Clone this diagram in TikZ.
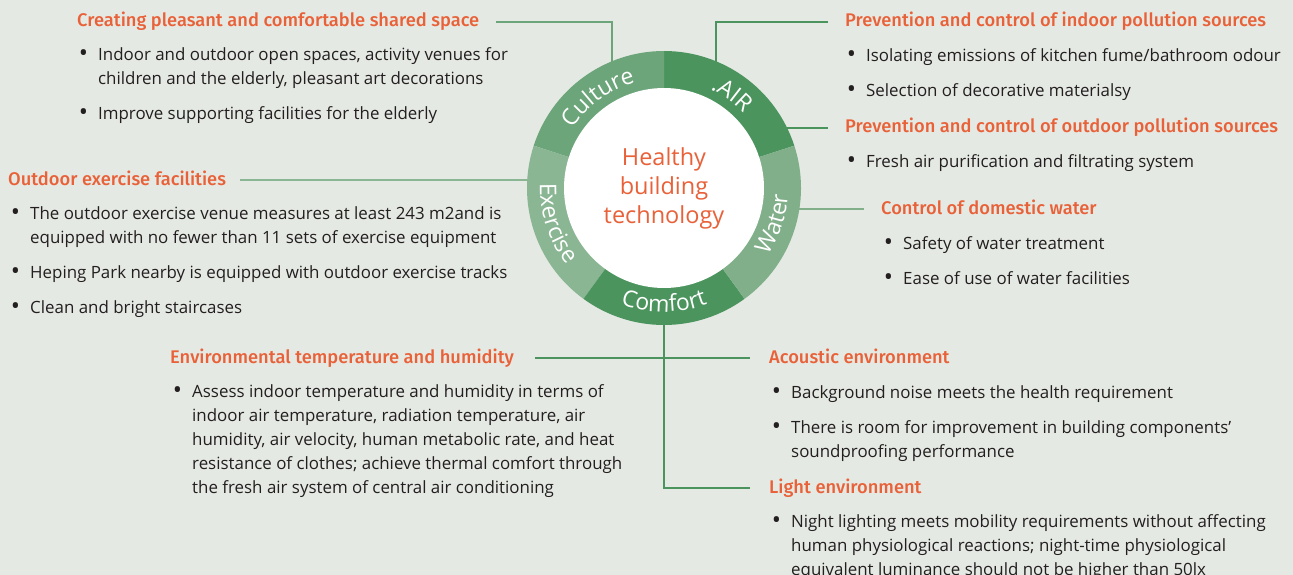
\documentclass[tikz,border=0pt]{standalone}
\usepackage{fontspec}
\setmainfont{Open Sans}
\newfontfamily\headfont{Fira Sans}[UprightFont=* Medium]
\usetikzlibrary{calc, decorations.text}

\definecolor{bgpaper}{HTML}{E5E9E3}
\definecolor{headorange}{HTML}{E96138}
\definecolor{bodygrey}{HTML}{231F20}
\definecolor{airgreen}{HTML}{4B945E}
\definecolor{culturegreen}{HTML}{6CA57A}
\definecolor{exercisegreen}{HTML}{8AB693}
\definecolor{comfortgreen}{HTML}{4B945E}
\definecolor{watergreen}{HTML}{80AF89}

\newcommand{\itm}{\llap{\raisebox{-0.6pt}{\scalebox{1.45}{\textbullet}}\hspace{10pt}}}

\tikzset{
  head/.style={font=\headfont\fontsize{18.3}{22}\selectfont, text=headorange,
    inner sep=0pt, text height=13.5pt, text depth=4pt, anchor=base west},
  items/.style={font=\fontsize{16.9}{24}\selectfont, text=bodygrey,
    align=left, inner sep=0pt, anchor=base west},
  link/.style={line width=2.3pt},
  ringlabel/.style={decorate, decoration={text along path, text align=center,
    text color=white, text={|\fontsize{23}{23}\selectfont|#1}}}
}

\begin{document}
\begin{tikzpicture}[x=1pt, y=1pt]
        \useasboundingbox (0,0) rectangle (1293,-575);
        \fill[bgpaper] (0,0) rectangle (1293,-575);

        % Centre of the ring
        \coordinate (C) at (664,-188);

        % Headings
        \node[head] (culthead) at (77,-27) {Creating pleasant and comfortable shared space};
        \node[head] (exhead) at (8,-185) {Outdoor exercise facilities};
        \node[head] (airhead) at (845,-27) {Prevention and control of indoor pollution sources};
        \node[head] (outhead) at (845,-133) {Prevention and control of outdoor pollution sources};
        \node[head] (waterhead) at (881,-214) {Control of domestic water};
        \node[head] (envhead) at (170,-363) {Environmental temperature and humidity};
        \node[head] (acoushead) at (769,-363) {Acoustic environment};
        \node[head] (lighthead) at (769,-493) {Light environment};

        % Bullet lists (anchored at the baseline of their last line)
        \node[items] (cultitems) at (98,-120) {\itm Indoor and outdoor open spaces, activity venues for\\
            children and the elderly, pleasant art decorations\\[11pt]
            \itm Improve supporting facilities for the elderly};
        \node[items] (exitems) at (30,-313.5) {\itm The outdoor exercise venue measures at least 243 m2and is\\
            equipped with no fewer than 11 sets of exercise equipment\\[11pt]
            \itm Heping Park nearby is equipped with outdoor exercise tracks\\[11pt]
            \itm Clean and bright staircases};
        \node[items] (airitems) at (866,-96.5) {\itm Isolating emissions of kitchen fume/bathroom odour\\[11pt]
            \itm Selection of decorative materialsy};
        \node[items] (outitems) at (866,-167.5) {\itm Fresh air purification and filtrating system};
        \node[items] (wateritems) at (903,-284.5) {\itm Safety of water treatment\\[11pt]
            \itm Ease of use of water facilities};
        \node[items] (envitems) at (192,-493.5) {\itm Assess indoor temperature and humidity in terms of\\
            indoor air temperature, radiation temperature, air\\
            humidity, air velocity, human metabolic rate, and heat\\
            resistance of clothes; achieve thermal comfort through\\
            the fresh air system of central air conditioning};
        \node[items] (acousitems) at (791,-457.5) {\itm Background noise meets the health requirement\\[11pt]
            \itm There is room for improvement in building components’\\
            soundproofing performance};
        \node[items] (lightitems) at (791,-575.5) {\itm Night lighting meets mobility requirements without affecting\\
            human physiological reactions; night-time physiological\\
            equivalent luminance should not be higher than 50lx};

        % Connectors (the ring is drawn over their inner ends)
        \coordinate (cultfoot) at (612,-188);
        \coordinate (airfoot) at (716,-188);
        \draw[link, culturegreen, shorten <=17pt] (culthead.east) -| (cultfoot);
        \draw[link, exercisegreen, shorten <=14pt] (exhead.east) -- (exhead.east -| C);
        \draw[link, airgreen, shorten <=17pt] (airhead.west) -| (airfoot);
        \draw[link, airgreen, shorten <=17pt] (outhead.west) -- (outhead.west -| C);
        \draw[link, watergreen, shorten <=17pt] (waterhead.west) -- (waterhead.west -| C);
        \draw[link, comfortgreen, shorten >=19pt] (C) |- (lighthead.west);
        \draw[link, comfortgreen, shorten <=21pt, shorten >=19pt] (envhead.east) -- (envhead.east -| acoushead.west);

        % Ring
        \foreach \a/\col in {18/airgreen, 90/culturegreen, 162/exercisegreen, 234/comfortgreen, 306/watergreen}
            \fill[\col] (C) -- ($(C)+(\a:137pt)$) arc[start angle=\a, delta angle=72, radius=137pt] -- cycle;
        \fill[white] (C) circle[radius=100pt];

        % Ring labels
        \path[ringlabel=Culture] ($(C)+(162:109pt)$) arc[start angle=162, end angle=90, radius=109pt];
        \path[ringlabel=.AIR] ($(C)+(90:109pt)$) arc[start angle=90, end angle=18, radius=109pt];
        \path[ringlabel=Exercise] ($(C)+(162:124pt)$) arc[start angle=162, end angle=234, radius=124pt];
        \path[ringlabel=Comfort] ($(C)+(234:124pt)$) arc[start angle=234, end angle=306, radius=124pt];
        \path[ringlabel=Water] ($(C)+(306:124pt)$) arc[start angle=306, end angle=378, radius=124pt];

        % Centre text
        \node[align=center, text=headorange, font=\fontsize{23.5}{29}\selectfont] (core) at (C) {Healthy\\building\\technology};
\end{tikzpicture}
\end{document}
